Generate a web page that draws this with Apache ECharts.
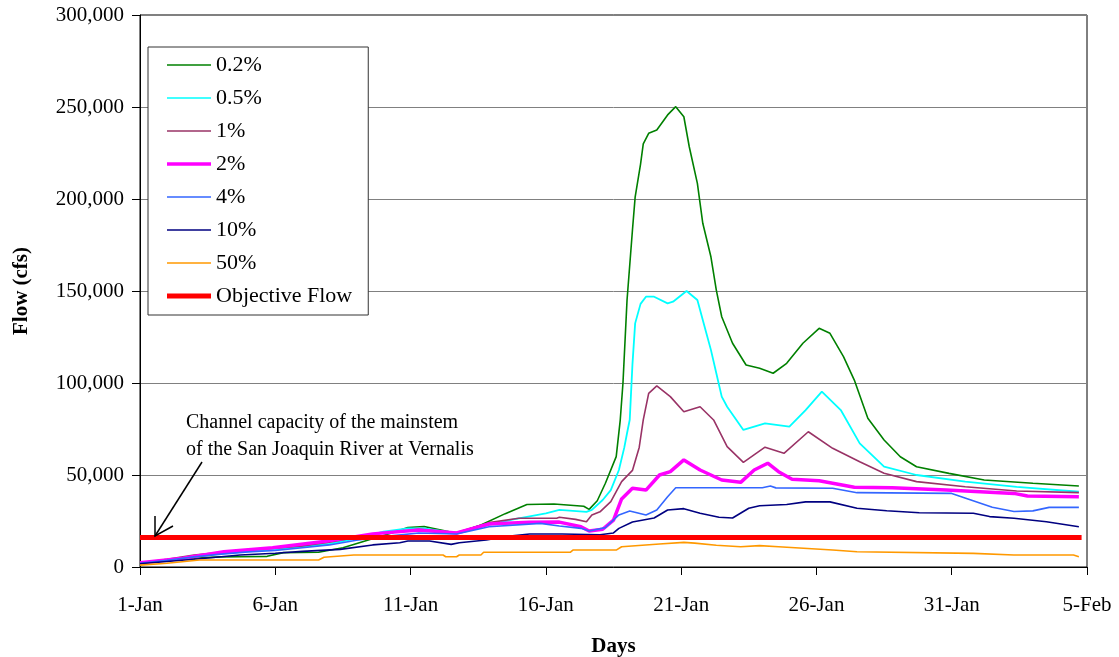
<!DOCTYPE html>
<html>
<head>
<meta charset="utf-8">
<script src="https://cdn.jsdelivr.net/npm/echarts@6/dist/echarts.min.js"></script>
<style>
html,body{margin:0;padding:0;background:#fff;}
#chart{width:1119px;height:657px;}
</style>
</head>
<body>
<div id="chart"></div>
<script>
// ---- Data (x = days after 1-Jan, y = flow in cfs) ----
const seriesNames = ['0.2%', '0.5%', '1%', '2%', '4%', '10%', '50%', 'Objective Flow'];
const tickLabels = ['1-Jan', '6-Jan', '11-Jan', '16-Jan', '21-Jan', '26-Jan', '31-Jan', '5-Feb'];
const yTicks = [0, 50000, 100000, 150000, 200000, 250000, 300000];

const flow02 = [[0,2000],[1,3500],[2,4800],[3,5500],[3.7,5600],[4.7,5800],[5.3,7800],[6.6,8000],[7.5,10500],[8.5,15000],[9.3,18500],[9.9,21500],[10.5,22000],[11.3,19500],[11.7,18300],[12.6,22800],[13.5,29000],[14.3,34000],[15.3,34200],[16.4,33000],[16.6,31300],[16.9,36000],[17.2,45500],[17.6,60000],[17.75,80000],[17.85,100000],[18.0,145000],[18.2,183000],[18.3,201000],[18.5,219000],[18.6,230000],[18.8,235700],[19.1,237500],[19.5,245700],[19.8,250200],[20.1,244700],[20.3,228400],[20.6,208500],[20.8,186800],[21.1,168600],[21.3,150500],[21.5,136000],[21.9,121600],[22.4,109800],[22.9,108000],[23.4,105300],[23.9,110700],[24.5,121600],[25.1,129700],[25.5,127000],[26.0,114300],[26.4,101600],[26.9,80800],[27.5,69000],[28.1,59900],[28.7,54500],[29.9,50900],[31.2,47300],[33,45500],[34.7,44000]];
const flow05 = [[0,2000],[1,3800],[2,5500],[3,7300],[4,8500],[5,9500],[6,11000],[7,12500],[8,15500],[9,19200],[9.9,21000],[10.5,21000],[11.3,19200],[11.7,18300],[12.6,21900],[13.8,25900],[15,29200],[15.5,31000],[16.5,30000],[16.7,31000],[17.1,36400],[17.4,41800],[17.7,52700],[17.9,65000],[18.0,72700],[18.1,80000],[18.2,110000],[18.3,132400],[18.5,143000],[18.7,146900],[19,146900],[19.5,143300],[19.7,144200],[20.2,150000],[20.6,145100],[20.9,128800],[21.1,118000],[21.3,105300],[21.5,92600],[21.7,87100],[22.3,74500],[23.1,78100],[24,76300],[24.6,85300],[25.2,95300],[25.9,85300],[26.6,67200],[27.5,54500],[28.7,50000],[30.5,46400],[32.4,43600],[34.7,40900]];
const flow1 = [[0,2200],[1,4200],[2,6500],[3,8000],[4,9500],[5,10200],[6,11500],[7,13500],[8,16000],[8.9,18300],[10.3,20500],[11.7,18700],[12.9,24100],[14,26500],[15.4,26500],[15.5,27000],[16.1,25900],[16.5,24600],[16.7,28300],[17,30000],[17.4,35500],[17.8,46400],[18.2,52500],[18.45,65000],[18.6,80000],[18.8,94400],[19.1,98400],[19.6,92600],[20.1,84400],[20.7,87100],[21.2,79900],[21.7,65400],[22.3,56900],[23.1,65100],[23.8,61800],[24.7,73500],[25.6,64500],[26.6,57200],[27.5,50900],[28.7,46400],[30.5,43600],[32.4,41300],[34.7,40400]];
const flow2 = [[0,2300],[1.6,4700],[3.1,8300],[4.9,10500],[6.8,13800],[8.6,18000],[10.3,20100],[11.7,18500],[12.9,23400],[14.4,24300],[15.5,24400],[16.3,21900],[16.6,19600],[17.1,20500],[17.5,25500],[17.8,37000],[18.2,42800],[18.7,41800],[19.2,50000],[19.6,51800],[20.1,58200],[20.7,52700],[21.5,47300],[22.2,46000],[22.7,52700],[23.2,56400],[23.6,51800],[24.1,47700],[25.1,46900],[26.4,43300],[27.8,43100],[29.8,41800],[32.3,40000],[32.8,38600],[34.7,38200]];
const flow4 = [[0,2000],[1,3600],[2,5500],[3,7000],[4,8200],[5,9000],[6,10500],[7,12000],[8,14500],[9,16500],[10.3,18500],[11.7,17900],[12.9,21900],[14.8,23700],[15.5,22300],[16.3,21000],[16.6,19600],[17.2,21400],[17.7,28300],[18.1,30400],[18.7,28300],[19.1,31000],[19.5,38200],[19.8,43100],[23.0,43100],[23.3,44000],[23.5,43000],[25.6,42800],[26.5,40400],[30.0,40000],[30.6,37000],[31.5,32500],[32.3,30200],[33,30500],[33.6,32400],[34.7,32400]];
const flow10 = [[0,1800],[1,3000],[2,4200],[3.7,6500],[5,7500],[6,8500],[7.4,9600],[8.6,12000],[9.6,13200],[9.9,14100],[10.7,14100],[11.5,12300],[11.8,13200],[12.8,14700],[13.5,16500],[14.4,17900],[15.6,17900],[17,17500],[17.5,18500],[17.7,21000],[18.2,24500],[19,26600],[19.5,31000],[20.1,31700],[20.7,29200],[21.4,27000],[21.9,26600],[22.5,31900],[22.9,33300],[23.9,34000],[24.6,35400],[25.5,35400],[26.5,31900],[27.6,30600],[28.8,29500],[30.8,29200],[31.4,27400],[32.3,26500],[33.5,24600],[34.7,21900]];
const flow50 = [[0,1000],[1,2000],[2.2,3800],[6.6,3800],[6.8,5300],[7.9,6500],[11.2,6500],[11.3,5600],[11.7,5600],[11.8,6500],[12.6,6500],[12.7,8000],[15.9,8000],[16,9200],[17.6,9200],[17.8,11000],[19.2,12500],[20.1,13400],[20.5,13000],[21.3,11800],[22.2,11000],[22.9,11600],[23.6,11000],[25.6,9200],[26.5,8300],[30.8,7400],[32.3,6500],[34.5,6500],[34.7,5600]];
const objectiveFlow = [[0,16000],[34.8,16000]];

const seriesData = [flow02, flow05, flow1, flow2, flow4, flow10, flow50, objectiveFlow];
const seriesColors = ['#008000', '#00FFFF', '#993366', '#FF00FF', '#3366FF', '#000080', '#FF9900', '#FF0000'];
const seriesWidths = [1.6, 1.8, 1.6, 3.5, 1.6, 1.6, 1.6, 5];

const FONT = "'Liberation Serif', 'Times New Roman', serif";

const chart = echarts.init(document.getElementById('chart'), null, {renderer: 'canvas'});

const series = seriesNames.map((name, i) => ({
  name: name,
  type: 'line',
  data: seriesData[i],
  showSymbol: false,
  symbol: 'none',
  lineStyle: {color: seriesColors[i], width: seriesWidths[i]},
  itemStyle: {color: seriesColors[i]},
  emphasis: {disabled: true},
  silent: true,
  z: 2 + i
}));

const option = {
  animation: false,
  backgroundColor: '#fff',
  grid: {
    left: 140, right: 32, top: 15, bottom: 90,
    containLabel: false,
    outerBoundsMode: 'none',
    show: true, borderColor: '#000', borderWidth: 1, backgroundColor: '#fff'
  },
  legend: {
    orient: 'vertical',
    left: 148, top: 47,
    padding: [7, 16, 8, 19],
    itemGap: 11,
    itemWidth: 44,
    itemHeight: 14,
    symbolKeepAspect: true,
    backgroundColor: '#fff',
    borderColor: '#333',
    borderWidth: 1,
    borderRadius: 0,
    textStyle: {fontFamily: FONT, fontSize: 22, color: '#000', padding: [0, 0, 0, 0]},
    data: seriesNames.map((n, i) => ({
      name: n,
      icon: 'path://M0,0H44V' + (seriesWidths[i] > 3 ? seriesWidths[i] : 1.6) + 'H0Z'
    })),
    selectedMode: false
  },
  xAxis: {
    type: 'value',
    min: 0, max: 35, interval: 5,
    name: 'Days',
    nameLocation: 'middle',
    nameGap: 69,
    nameTextStyle: {fontFamily: FONT, fontSize: 21, fontWeight: 'bold', color: '#000'},
    axisLine: {show: true, onZero: false, lineStyle: {color: '#000', width: 1}},
    axisTick: {show: true, inside: false, length: 8, lineStyle: {color: '#000'}},
    axisLabel: {
      margin: 28,
      fontFamily: FONT, fontSize: 21, color: '#000',
      formatter: v => tickLabels[Math.round(v / 5)]
    },
    splitLine: {show: false}
  },
  yAxis: {
    type: 'value',
    min: 0, max: 300000, interval: 50000,
    name: 'Flow (cfs)',
    nameLocation: 'middle',
    nameGap: 108,
    nameRotate: 90,
    nameTextStyle: {fontFamily: FONT, fontSize: 21, fontWeight: 'bold', color: '#000'},
    axisLine: {show: true, lineStyle: {color: '#000', width: 1}},
    axisTick: {show: true, inside: false, length: 8, lineStyle: {color: '#000'}},
    axisLabel: {
      margin: 16,
      fontFamily: FONT, fontSize: 21, color: '#000',
      formatter: v => (yTicks.indexOf(v) >= 0 ? v.toLocaleString('en-US') : '')
    },
    splitLine: {show: true, lineStyle: {color: '#808080', width: 1}}
  },
  graphic: [
    {
      type: 'text', left: 186, top: 413, silent: true, z: 50,
      style: {text: 'Channel capacity of the mainstem', fontFamily: FONT, fontSize: 20, fill: '#000'}
    },
    {
      type: 'text', left: 186, top: 440, silent: true, z: 50,
      style: {text: 'of the San Joaquin River at Vernalis', fontFamily: FONT, fontSize: 20, fill: '#000'}
    },
    {
      type: 'line', silent: true, z: 50,
      shape: {x1: 202, y1: 462, x2: 155, y2: 536},
      style: {stroke: '#000', lineWidth: 1.5}
    },
    {
      type: 'polyline', silent: true, z: 50,
      shape: {points: [[155, 516], [155, 536], [173, 526]]},
      style: {stroke: '#000', lineWidth: 1.5, fill: null}
    }
  ],
  series: series
};

chart.setOption(option);
</script>
</body>
</html>
